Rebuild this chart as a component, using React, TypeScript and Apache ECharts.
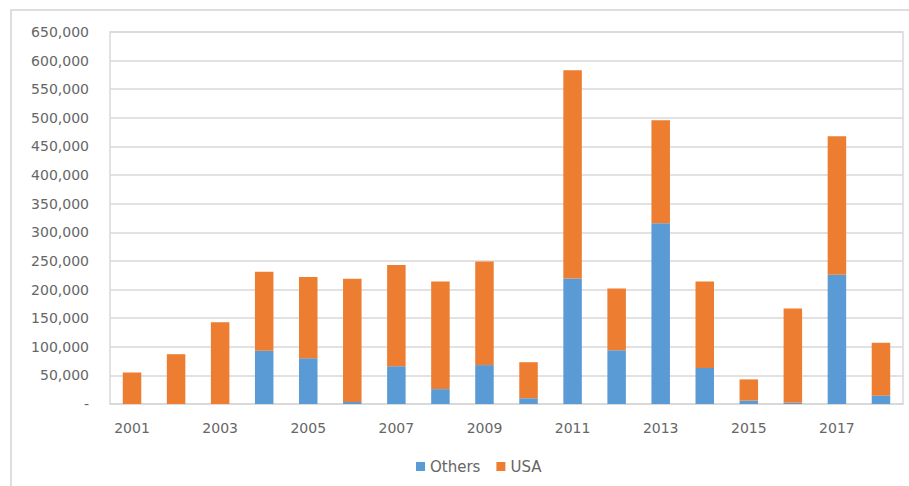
import React, { useEffect, useRef } from "react";
import * as echarts from "echarts";

const years = [
  "2001", "2002", "2003", "2004", "2005", "2006", "2007", "2008", "2009",
  "2010", "2011", "2012", "2013", "2014", "2015", "2016", "2017", "2018",
];
const others = [
  0, 0, 0, 93000, 80000, 3500, 66000, 26000, 68000,
  10000, 219500, 94000, 316000, 63000, 6000, 2000, 226000, 15000,
];
const usa = [
  55000, 87000, 143000, 138000, 142000, 215500, 177000, 188000, 181000,
  63000, 363500, 108000, 180000, 151000, 37000, 165000, 242000, 92000,
];
const seriesNames = ["Others", "USA"];

const FONT = "DejaVu Sans";

export default function App() {
  const ref = useRef<HTMLDivElement>(null);
  useEffect(() => {
    if (!ref.current) return;
    const chart = echarts.init(ref.current, null, { renderer: "svg" });
    chart.setOption({
      animation: false,
      backgroundColor: "#ffffff",
      graphic: [
        {
          type: "rect",
          shape: { x: 11, y: 10, width: 920, height: 500 },
          style: { fill: "none", stroke: "#d4d4d4", lineWidth: 1.5 },
          silent: true,
          z: -1,
        },
      ],
      grid: {
        left: 110,
        top: 32,
        right: 6,
        bottom: 82,
        show: true,
        borderColor: "#d9d9d9",
        borderWidth: 1.5,
        containLabel: false,
      },
      legend: {
        bottom: 7,
        left: 411,
        itemWidth: 9,
        itemHeight: 9,
        itemGap: 16,
        icon: "rect",
        textStyle: { color: "#666666", fontSize: 15, fontFamily: FONT },
        data: seriesNames,
      },
      xAxis: {
        type: "category",
        data: years,
        axisLine: { show: true, lineStyle: { color: "#d9d9d9", width: 1.5 } },
        axisTick: { show: false },
        axisLabel: {
          interval: 1,
          color: "#666666",
          fontSize: 14,
          fontFamily: FONT,
          margin: 17,
        },
      },
      yAxis: {
        type: "value",
        min: 0,
        max: 650000,
        interval: 50000,
        axisLine: { show: false },
        axisTick: { show: false },
        splitLine: { lineStyle: { color: "#d9d9d9", width: 1.5 } },
        axisLabel: {
          color: "#666666",
          fontSize: 14,
          fontFamily: FONT,
          margin: 21,
          formatter: (v: number) => (v === 0 ? "-" : v.toLocaleString("en-US")),
        },
      },
      series: [
        {
          name: seriesNames[0],
          type: "bar",
          stack: "total",
          data: others,
          barWidth: "42%",
          itemStyle: { color: "#5B9BD5" },
        },
        {
          name: seriesNames[1],
          type: "bar",
          stack: "total",
          data: usa,
          barWidth: "42%",
          itemStyle: { color: "#ED7D31" },
        },
      ],
    });
    return () => chart.dispose();
  }, []);
  return (
    <div
      ref={ref}
      style={{ position: "fixed", left: 0, top: 0, width: 909, height: 486 }}
    />
  );
}
